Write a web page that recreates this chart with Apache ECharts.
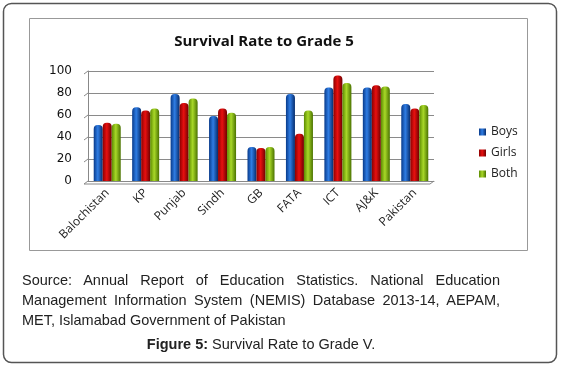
<!DOCTYPE html>
<html>
<head>
<meta charset="utf-8">
<script src="https://cdn.jsdelivr.net/npm/echarts@6/dist/echarts.min.js"></script>
<style>
  html, body { margin: 0; padding: 0; background: #fff; }
  #wrap { position: relative; width: 561px; height: 367px; }
  #chart { position: absolute; left: 0; top: 0; width: 561px; height: 367px; }
  #source { position: absolute; left: 22px; top: 270px; width: 478px; font-family: "Liberation Sans", Arial, sans-serif; font-size: 14.5px; line-height: 20px; color: #222; text-align: justify; }
  #fig { position: absolute; left: 0; width: 522px; top: 336px; text-align: center; font-family: "Liberation Sans", Arial, sans-serif; font-size: 14.5px; color: #222; }
</style>
</head>
<body>
<div id="wrap">
  <div id="chart"></div>
  <div id="source">Source: Annual Report of Education Statistics. National Education Management Information System (NEMIS) Database 2013-14, AEPAM, MET, Islamabad Government of Pakistan</div>
  <div id="fig"><b>Figure 5:</b> Survival Rate to Grade V.</div>
</div>
<script>
const categories = ["Balochistan", "KP", "Punjab", "Sindh", "GB", "FATA", "ICT", "AJ&K", "Pakistan"];
const boys  = [51, 67, 79, 59, 31, 79, 85, 85, 70];
const girls = [53, 64, 71, 66, 30, 43, 96, 87, 66];
const both  = [52, 66, 75, 62, 31, 64, 89, 86, 69];
const yTicks = [0, 20, 40, 60, 80, 100];
const titleText = "Survival Rate to Grade 5";

function cyl(dark, light, dark2) {
  return new echarts.graphic.LinearGradient(0, 0, 1, 0, [
    { offset: 0, color: dark },
    { offset: 0.45, color: light },
    { offset: 1, color: dark2 }
  ]);
}

const chart = echarts.init(document.getElementById('chart'), null, { renderer: 'canvas' });
const option = {
  animation: false,
  backgroundColor: 'transparent',
  title: {
    text: titleText,
    left: 259, top: 29, textAlign: 'center',
    textStyle: { fontFamily: 'Open Sans', fontWeight: 'bold', fontSize: 15, color: '#111' }
  },
  legend: {
    orient: 'vertical', left: 474, top: 121,
    itemWidth: 7, itemHeight: 7, itemGap: 9,
    icon: 'rect',
    textStyle: { fontFamily: 'Open Sans', fontSize: 12, color: '#222' },
    data: ['Boys', 'Girls', 'Both']
  },
  grid: { left: 88, right: 127, top: 71, bottom: 186 },
  xAxis: {
    type: 'category', data: categories,
    axisLine: { show: true, lineStyle: { color: '#888' } },
    axisTick: { show: false },
    axisLabel: { rotate: 45, margin: 10, fontFamily: 'Open Sans', fontSize: 12, color: '#222', interval: 0 }
  },
  yAxis: {
    type: 'value', min: 0, max: 100, interval: 20,
    axisLine: { show: true, lineStyle: { color: '#888' } },
    axisTick: { show: false },
    splitLine: { lineStyle: { color: '#8a8a8a', width: 1 } },
    axisLabel: { margin: 16, fontFamily: 'DejaVu Sans', fontSize: 12, color: '#111',
      formatter: v => yTicks.includes(v) ? String(v) : '' }
  },
  series: [
    { name: 'Boys', type: 'bar', data: boys, barWidth: 9, barGap: '0%',
      itemStyle: { color: cyl('#083a8a', '#2f7de4', '#062c6c'), borderRadius: [4, 4, 0, 0] } },
    { name: 'Girls', type: 'bar', data: girls, barWidth: 9, barGap: '0%',
      itemStyle: { color: cyl('#8c0000', '#e81010', '#700000'), borderRadius: [4, 4, 0, 0] } },
    { name: 'Both', type: 'bar', data: both, barWidth: 9, barGap: '0%',
      itemStyle: { color: cyl('#5b8a00', '#a8d828', '#4a7200'), borderRadius: [4, 4, 0, 0] } }
  ]
};
chart.setOption(option);

const g = [];
g.push({ type: 'rect', shape: { x: 3.5, y: 3.5, width: 553, height: 359, r: 8 }, style: { fill: null, stroke: '#555', lineWidth: 1.5 }, z: -1 });
g.push({ type: 'rect', shape: { x: 29.5, y: 18.5, width: 498, height: 232 }, style: { fill: null, stroke: '#999', lineWidth: 1 }, z: -1 });
const step = chart.convertToPixel({ xAxisIndex: 0 }, 1) - chart.convertToPixel({ xAxisIndex: 0 }, 0);
const x0 = chart.convertToPixel({ xAxisIndex: 0 }, 0) - step / 2;
const xEnd = x0 + step * categories.length;
yTicks.forEach(v => {
  const y = chart.convertToPixel({ yAxisIndex: 0 }, v);
  g.push({ type: 'line', shape: { x1: x0 - 4, y1: y + 3, x2: x0, y2: y }, style: { stroke: '#888', lineWidth: 1 } });
});
const y0 = chart.convertToPixel({ yAxisIndex: 0 }, 0);
g.push({ type: 'line', shape: { x1: x0 - 4, y1: y0 + 3, x2: xEnd - 4, y2: y0 + 3 }, style: { stroke: '#888', lineWidth: 1 } });
g.push({ type: 'line', shape: { x1: xEnd - 4, y1: y0 + 3, x2: xEnd, y2: y0 }, style: { stroke: '#888', lineWidth: 1 } });
chart.setOption({ graphic: g });
</script>
</body>
</html>
